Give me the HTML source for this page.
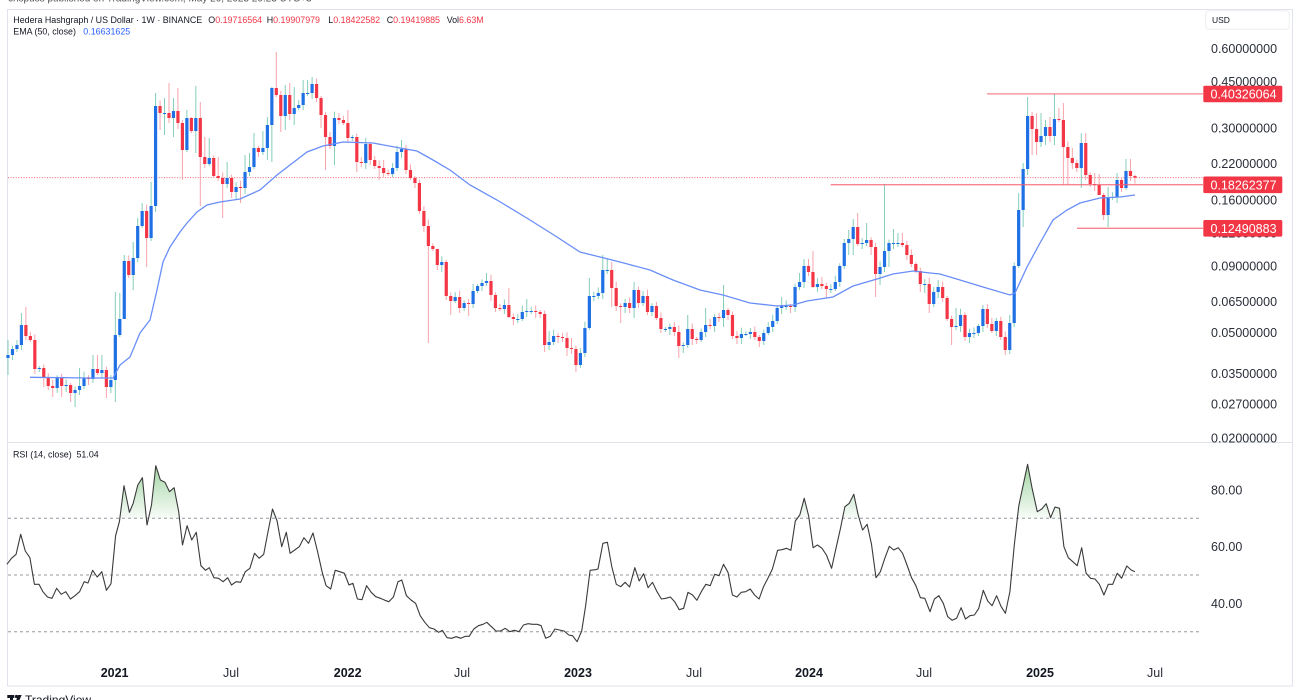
<!DOCTYPE html>
<html><head><meta charset="utf-8">
<style>
html,body{margin:0;padding:0;background:#fff;width:1300px;height:700px;overflow:hidden}
svg{display:block}
text{font-family:"Liberation Sans",Arial,sans-serif}
</style></head><body>
<svg id="s" width="1300" height="700" viewBox="0 0 1300 700" xmlns="http://www.w3.org/2000/svg">
<defs>
<linearGradient id="g" x1="0" y1="462" x2="0" y2="518.3" gradientUnits="userSpaceOnUse">
<stop offset="0" stop-color="#4caf50" stop-opacity="0.55"/>
<stop offset="1" stop-color="#4caf50" stop-opacity="0.04"/>
</linearGradient>
<clipPath id="c70"><rect x="0" y="443" width="1300" height="75.3"/></clipPath>
</defs>
<rect width="1300" height="700" fill="#fff"/>
<text x="8" y="1.5" font-size="10" fill="#555">crispuss published on TradingView.com, May 20, 2025 20:23 UTC+3</text>
<rect x="7.5" y="9.5" width="1285" height="676.5" fill="none" stroke="#e0e3eb"/>
<line x1="7.5" y1="442.5" x2="1292.5" y2="442.5" stroke="#e0e3eb"/>

<!-- header legend -->
<text x="13.3" y="23" font-size="8.9" fill="#131722">Hedera Hashgraph / US Dollar · 1W · BINANCE</text>
<text x="208.3" y="23" font-size="8.9"><tspan fill="#131722">O</tspan><tspan fill="#f23645">0.19716564</tspan></text>
<text x="266.7" y="23" font-size="8.9"><tspan fill="#131722">H</tspan><tspan fill="#f23645">0.19907979</tspan></text>
<text x="328.3" y="23" font-size="8.9"><tspan fill="#131722">L</tspan><tspan fill="#f23645">0.18422582</tspan></text>
<text x="386.7" y="23" font-size="8.9"><tspan fill="#131722">C</tspan><tspan fill="#f23645">0.19419885</tspan></text>
<text x="446.7" y="23" font-size="8.9"><tspan fill="#131722">Vol</tspan><tspan fill="#f23645">6.63M</tspan></text>
<text x="13.3" y="34.5" font-size="8.9" fill="#131722">EMA (50, close)</text>
<text x="83.3" y="34.5" font-size="8.9" fill="#2962ff">0.16631625</text>

<!-- USD box -->
<rect x="1205.7" y="10.7" width="83.6" height="18.6" rx="3" fill="#fff" stroke="#eceef2"/>
<text x="1212" y="23" font-size="8.5" fill="#131722">USD</text>

<!-- current price dotted line -->
<line x1="8" y1="177.6" x2="1203" y2="177.6" stroke="#f26b76" stroke-width="1" stroke-dasharray="1 1.6"/>

<g id="candles"></g>

<!-- EMA -->
<polyline fill="none" stroke="#6a8ef8" stroke-width="1.3" points="30,377.3 60,377.6 90,378 113,378 120,365 130,357 140,333 150,320 157,290 163,262 170,247 180,232 187,223 197,212 207,205 220,202 240,199 260,190 277,175 290,165 307,152 323,146 343,142 373,143 400,148 417,151 433,160 450,170 470,185 497,200 530,220 557,237 580,252 600,257 620,262 650,270 673,280 700,290 723,295 750,303 777,306 793,305 807,301 833,297 853,286 877,279 893,274 913,271 930,273 940,274 960,280 983,287 1010,295 1015,293 1027,267 1040,243 1053,220 1067,210 1080,203 1100,198 1120,197 1135,195"/>

<!-- level lines -->
<line x1="987" y1="93.9" x2="1203" y2="93.9" stroke="#f45b69" stroke-opacity="0.75" stroke-width="1.3"/>
<line x1="830.7" y1="184.7" x2="1203" y2="184.7" stroke="#f45b69" stroke-opacity="0.75" stroke-width="1.3"/>
<line x1="1077" y1="228.3" x2="1203" y2="228.3" stroke="#f45b69" stroke-opacity="0.75" stroke-width="1.3"/>

<!-- price axis labels -->
<g font-size="12.5" fill="#2a2e39">
<text x="1211" y="52.8">0.60000000</text>
<text x="1211" y="85.8">0.45000000</text>
<text x="1211" y="132.3">0.30000000</text>
<text x="1211" y="167.9">0.22000000</text>
<text x="1211" y="204.4">0.16000000</text>
<text x="1211" y="237.4">0.12000000</text>
<text x="1211" y="270.3">0.09000000</text>
<text x="1211" y="306">0.06500000</text>
<text x="1211" y="337.2">0.05000000</text>
<text x="1211" y="378.1">0.03500000</text>
<text x="1211" y="408.5">0.02700000</text>
<text x="1211" y="442.3">0.02000000</text>
</g>
<rect x="1203.3" y="85.7" width="79" height="16.6" rx="1.5" fill="#f23645"/>
<text x="1210.5" y="98.5" font-size="12.5" fill="#fff">0.40326064</text>
<rect x="1203.3" y="176.5" width="79" height="16.6" rx="1.5" fill="#f23645"/>
<text x="1210.5" y="189.3" font-size="12.5" fill="#fff">0.18262377</text>
<rect x="1203.3" y="220" width="79" height="16.6" rx="1.5" fill="#f23645"/>
<text x="1210.5" y="232.8" font-size="12.5" fill="#fff">0.12490883</text>

<!-- RSI pane -->
<text x="13" y="457.5" font-size="8.9" fill="#131722">RSI (14, close)</text>
<text x="76.5" y="457.5" font-size="8.9" fill="#131722">51.04</text>
<g stroke="#9598a1" stroke-width="1" stroke-dasharray="3 3">
<line x1="8" y1="518.3" x2="1202" y2="518.3"/>
<line x1="8" y1="575" x2="1202" y2="575"/>
<line x1="8" y1="631.7" x2="1202" y2="631.7"/>
</g>
<g font-size="12.5" fill="#2a2e39">
<text x="1211" y="494.5">80.00</text>
<text x="1211" y="551.1">60.00</text>
<text x="1211" y="607.9">40.00</text>
</g>
<polygon id="rfill" clip-path="url(#c70)" fill="url(#g)" points=""/>
<polyline id="rsi" fill="none" stroke="#3a3a3a" stroke-width="1.1" stroke-linejoin="round" points="6.9,564.3 11.5,558.3 16.1,554.3 20.7,534.3 25.3,551 29.9,557.7 34.4,584.3 39,584.3 42.9,591.7 47.5,597 52,598.3 56.6,588.3 61.2,594.3 65.8,591.7 70.4,599 75,595.7 79.6,591.7 84.2,581.7 88,583 92.6,570.3 97.2,577 101.8,571.7 106.4,590.3 111,583.7 115.6,535.7 119.4,521.7 124,485.7 129.4,512.3 133.2,503.3 137.8,485 142.4,477.7 147,525 151.5,505 155.8,465.7 160.4,480 165,482.3 169.5,491.7 174.1,487.7 178.7,511.7 182.5,545 187.1,525.7 191.7,540 196.3,532.3 200.9,565.7 205.5,570.3 209.3,567.7 213.9,577.7 218.5,578.3 223.1,581.7 227.7,577.7 231.5,585 236.1,581.7 240.7,582.3 245.3,571.7 249.9,568.3 254.5,553.3 259.1,558.3 263.7,554.3 267.9,532.3 272.5,509 277.1,521 281.7,546.7 286.3,532.3 290.1,553.3 294.7,550 299.3,546.7 303.9,537.7 308.5,543.3 313,533 317.6,551.7 322.2,572.3 326.1,585.7 330.7,589 335.2,570.3 339.8,571.7 344.4,573.3 349,585 352.9,583.3 357.4,599 362,599.7 366.6,585.7 371.2,592.3 375.8,596.7 380.4,598.3 385,600.3 388.8,601.7 393.4,597 398,581.7 401.8,580 406.4,595.7 411,600 415.6,603.3 420.2,615.7 424.8,622.3 429.4,627.7 434,629 438.6,632.3 442.4,630.3 447,637.7 451.6,638.3 456.2,636.7 460.8,638.3 465.4,636.3 469.2,636.3 473.8,629 478.4,625.7 483,624.3 486.8,622.3 491.4,626.7 496,631 500.6,631 505.2,628.3 509.8,631.7 514.4,630.3 518.9,631.7 523.5,625 528.1,623.7 532.7,624.3 537.3,624.3 541.1,625.7 545.7,638.3 550.3,636.3 554.9,629 559.5,630 564.1,631 568.7,635 572.5,635.7 577.1,641.7 581.7,631 585.5,606.7 590.1,570.3 595.5,569.7 598,569 602.9,543.3 607.4,542.3 611.8,566.7 616.3,584.3 620.7,586.7 625.1,582.3 629.6,587 634.8,567.7 639.2,581 643.6,573.7 648.1,587.7 652.5,582.3 657,591.7 661.4,599 665.8,598.3 670.3,597 674.7,601.7 679.2,609.7 683.6,608.3 688,592.3 692.5,595 696.9,600.3 701.3,591.7 705.8,584.3 710.2,585.7 714.7,574.3 719.1,575.7 723.5,564.3 728,572.3 732.4,595 736.9,597 741.3,592.3 745.7,591.7 750.2,589 754.6,595 759.1,599 763.5,586.7 767.9,578.3 772.4,569 777.6,550.3 782,549.7 786.4,548.3 790.9,550.3 795.3,521 799.8,515 804.2,498.3 808.6,515.7 813.1,547.7 817.5,545 822,548.3 826.4,555 831.6,568.3 836,548.3 840.5,528.3 844.9,506.7 849.3,503.3 853.8,494.3 858.2,515 862.6,530 867.1,524.3 871.5,544.3 876,577.7 880.4,571.7 884.8,558.3 889.3,546.3 893.7,550 898.2,547.7 902.6,553.3 907,565 911.5,577.7 915.9,585.7 920.4,597.7 924.8,598.3 930,611.7 934.4,599 938.9,595.7 943.3,603.3 947.7,616.7 952.2,620.3 956.6,618.3 961.1,607.7 965.5,619 969.9,615.7 974.4,615 978.8,608.3 983.3,590.3 987.7,601 992.1,605.7 996.6,595.7 1001,606.3 1005.4,613.3 1009.9,591.7 1014.3,545 1018.8,505.7 1023.2,485 1027.6,464.3 1032.1,488.3 1037.3,511.7 1041.7,509 1046.2,503.7 1050.6,517.7 1055,507 1059.5,508.3 1063.9,546.7 1068.3,557.7 1072.8,561.7 1077.2,565.7 1081.7,547.7 1086.1,573.3 1090.5,578.3 1095,579 1099.4,584.3 1103.9,595 1108.3,584.3 1112.7,584.3 1117.2,573.3 1121.6,578.3 1126.8,566 1131.2,570 1134.9,571.7"/>

<!-- time axis -->
<g font-size="12.5" fill="#131722" text-anchor="middle">
<text x="114.6" y="677" font-weight="bold">2021</text>
<text x="231" y="677" fill="#2a2e39">Jul</text>
<text x="347.7" y="677" font-weight="bold">2022</text>
<text x="462" y="677" fill="#2a2e39">Jul</text>
<text x="578" y="677" font-weight="bold">2023</text>
<text x="694" y="677" fill="#2a2e39">Jul</text>
<text x="809" y="677" font-weight="bold">2024</text>
<text x="924" y="677" fill="#2a2e39">Jul</text>
<text x="1040" y="677" font-weight="bold">2025</text>
<text x="1155" y="677" fill="#2a2e39">Jul</text>
</g>

<!-- TradingView footer -->
<rect x="7.3" y="695" width="7" height="3" fill="#131722"/>
<rect x="10" y="695" width="3" height="6" fill="#131722"/>
<circle cx="16.5" cy="696.5" r="1.6" fill="#131722"/>
<polygon points="18,695 21.7,695 19,701 16,701" fill="#131722"/>
<text x="25" y="704" font-size="12" fill="#131722">TradingView</text>
</svg>
<script>
(function(){
var C=[355,349,345,325,336,340,369,368,378,386,
388,378,386,385,393,390,386,378,379,369,
373,370,387,380,335,319,261,275,258,226,
211,238,206,106,113,113,118,111,123,150,
118,131,118,157,164,158,176,178,184,178,
192,187,188,172,167,148,152,148,125,88,
95,116,95,114,108,105,93,93,84,98,
115,137,146,118,120,123,138,137,162,163,
144,160,166,168,173,174,168,152,149,170,
178,183,211,226,246,249,265,262,296,301,
297,308,303,304,291,286,283,281,295,308,
309,305,317,319,319,312,311,311,312,314,
345,342,336,337,338,348,349,365,353,328,
296,296,293,270,270,288,306,307,303,308,
290,303,296,312,306,318,329,329,327,332,
346,345,329,339,340,332,325,326,317,318,
310,315,336,338,334,334,332,337,341,333,
327,321,308,306,306,307,287,282,266,272,
287,284,286,289,289,282,266,243,239,227,
244,243,240,247,274,267,251,243,243,243,
245,255,264,271,284,284,304,292,287,298,
319,327,326,315,337,333,333,326,309,324,
331,321,337,350,323,266,210,169,116,129,
142,136,127,136,119,120,147,158,163,168,
143,175,184,185,195,215,197,197,180,188,
171,176,177.6];
var N=null;
var O={0:[340,375],3:[313,350],4:[307,N],8:[N,387],10:[N,397],12:[N,397],14:[N,402],15:[N,407],16:[368,N],19:[355,N],20:[355,N],21:[355,N],22:[N,398],24:[292,402],25:[293,N],26:[255,318],28:[242,290],29:[218,N],30:[203,N],31:[N,267],32:[182,N],33:[93,N],34:[N,130],35:[98,135],36:[83,N],37:[98,137],38:[88,N],39:[N,180],40:[110,152],41:[117,133],42:[86,153],43:[102,206],44:[137,N],45:[138,N],46:[N,177],47:[157,N],48:[N,218],49:[162,N],50:[N,198],51:[N,200],52:[N,203],53:[155,N],54:[153,N],55:[133,N],57:[131,N],58:[117,160],59:[87,162],60:[52,N],61:[N,132],62:[85,130],63:[83,N],64:[87,125],66:[80,N],67:[80,N],68:[77,N],70:[N,128],71:[112,170],73:[N,165],74:[113,N],76:[110,N],78:[N,172],80:[N,169],81:[142,N],83:[N,180],84:[160,N],86:[N,177],88:[140,N],94:[N,343],96:[254,N],97:[N,272],98:[N,300],99:[N,315],101:[N,313],103:[N,316],104:[284,N],107:[273,N],112:[288,318],116:[299,N],120:[N,352],121:[331,N],125:[N,356],126:[338,N],127:[N,372],128:[N,368],130:[278,N],133:[255,299],134:[259,N],135:[262,307],137:[N,323],139:[N,313],140:[282,318],143:[N,315],146:[N,333],150:[N,358],151:[N,353],152:[315,N],156:[308,N],160:[285,327],164:[N,344],173:[297,N],175:[N,313],177:[273,290],178:[259,N],179:[259,N],180:[251,288],182:[277,N],183:[N,298],188:[230,255],189:[219,255],190:[213,N],192:[223,N],193:[N,255],194:[N,297],195:[N,285],196:[184,N],197:[N,267],198:[229,N],199:[233,N],200:[233,N],203:[N,273],204:[N,292],205:[N,293],206:[N,313],207:[287,N],208:[280,N],211:[N,345],212:[308,N],215:[N,343],218:[305,N],221:[318,N],223:[N,355],224:[315,354],225:[N,327],226:[193,268],227:[163,227],228:[97,N],229:[N,155],230:[113,155],231:[113,N],232:[120,145],233:[117,142],234:[94,145],235:[108,N],236:[103,185],237:[N,185],238:[148,N],240:[133,188],241:[133,N],243:[173,N],244:[174,195],245:[N,220],246:[187,227],248:[173,N],250:[159,190],251:[159,N],252:[174.8,183.7]};
var ns='http://www.w3.org/2000/svg';
var g=document.getElementById('candles');
var prev=358,h='';
for(var k=0;k<C.length;k++){
 var o=prev,c=C[k];
 var x=8+4.472*k;
 var up=c<=o;
 var top=Math.min(o,c),bot=Math.max(o,c);
 var r1=((k*37)%7)/7,r2=((k*53)%5)/5;
 var hi=top-(2+r1*5),lo=bot+(2+r2*5);
 if(O[k]){if(O[k][0]!==null)hi=O[k][0];if(O[k][1]!==null)lo=O[k][1];}
 hi=Math.min(hi,top);lo=Math.max(lo,bot);
 h+='<line x1="'+x.toFixed(2)+'" y1="'+hi+'" x2="'+x.toFixed(2)+'" y2="'+lo+'" stroke="'+(up?'#84cdbb':'#f7a4ab')+'" stroke-width="1"/>';
 h+='<rect x="'+(x-1.6).toFixed(2)+'" y="'+top+'" width="3.2" height="'+Math.max(bot-top,1)+'" fill="'+(up?'#1f6fe5':'#f23645')+'"/>';
 prev=c;
}
g.innerHTML=h;
var pts=document.getElementById('rsi').getAttribute('points').trim();
var arr=pts.split(/\s+/);
var first=arr[0].split(',')[0],last=arr[arr.length-1].split(',')[0];
document.getElementById('rfill').setAttribute('points',first+',518.3 '+pts+' '+last+',518.3');
})();
</script>
</body></html>
